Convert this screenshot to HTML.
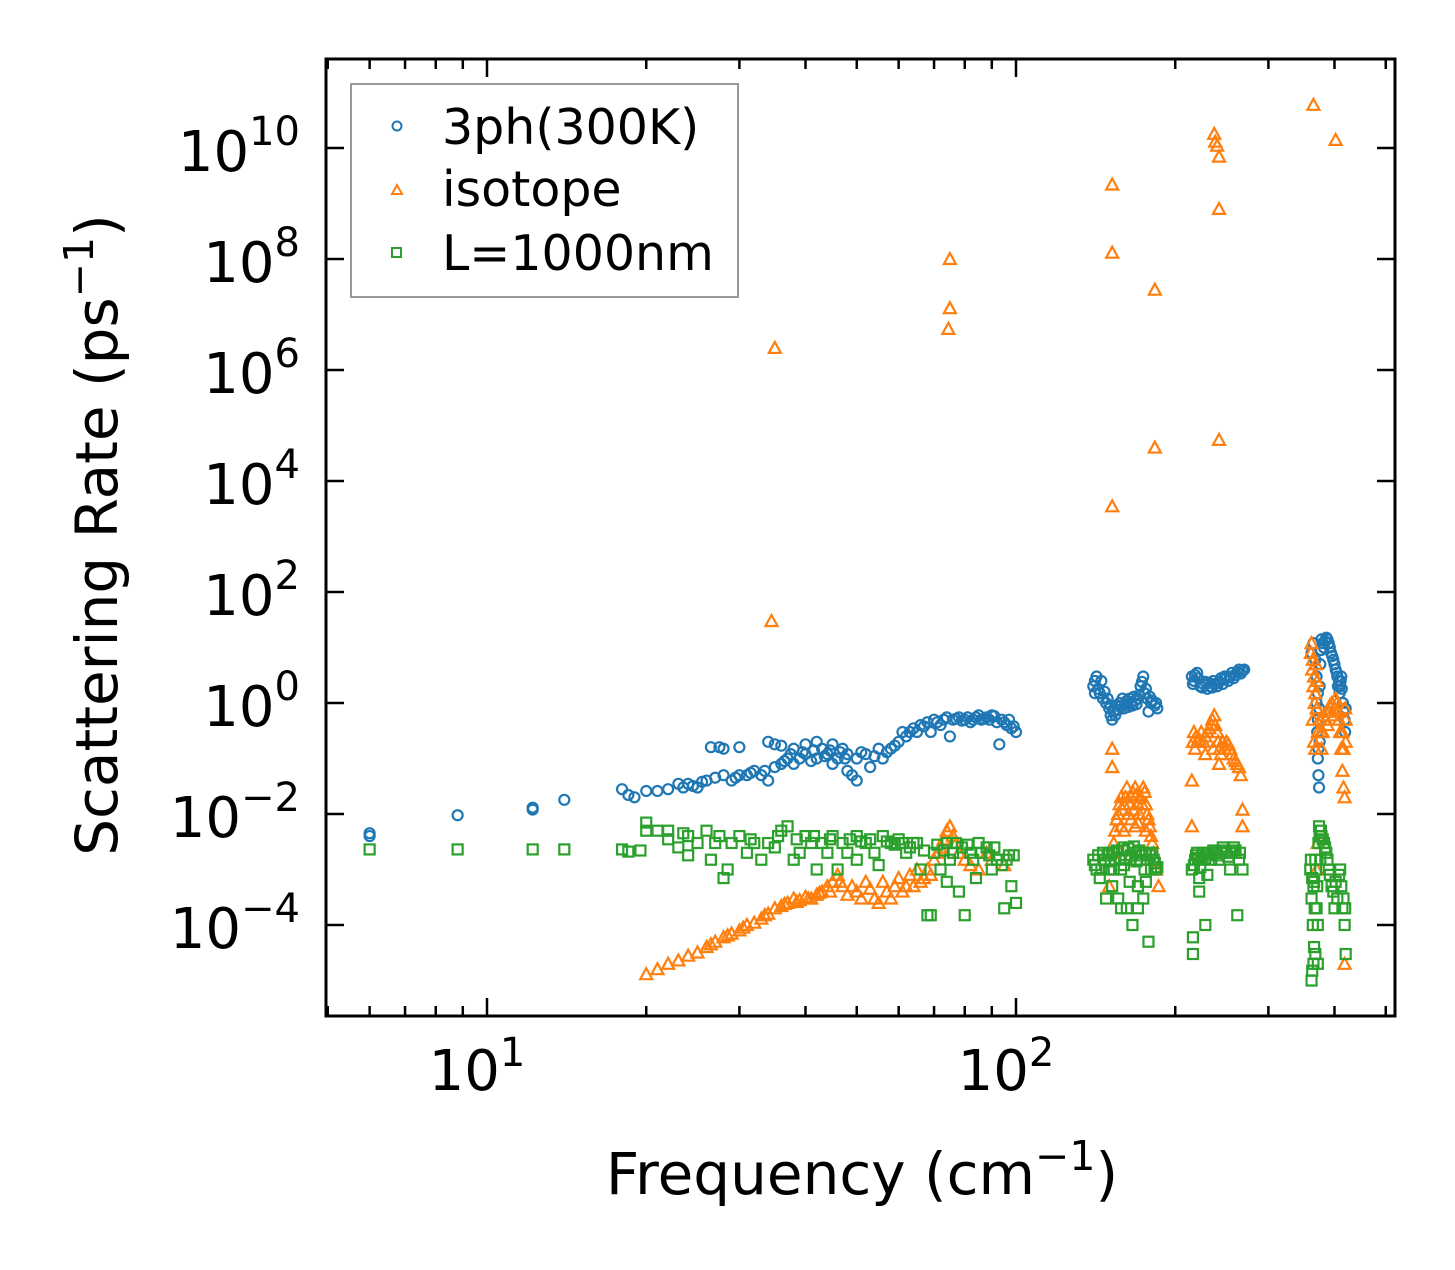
<!DOCTYPE html>
<html><head><meta charset="utf-8"><style>
body{margin:0;background:#fff}
svg text{font-family:"DejaVu Sans","Liberation Sans",sans-serif;fill:#000}
</style></head><body>
<svg id="chart" width="1455" height="1265" viewBox="0 0 1455 1265" xmlns="http://www.w3.org/2000/svg">
<rect width="1455" height="1265" fill="#fff"/>
<g id="marks"></g>
<g id="axes"></g>
<g id="legend">
<rect x="351" y="84" width="387" height="213" fill="#fff" fill-opacity="0.8" stroke="#999" stroke-width="2"/>
<circle cx="397" cy="126" r="4.5" fill="none" stroke="#1f77b4" stroke-width="2"/>
<text x="442" y="144" font-size="49">3ph(300K)</text>
<path d="M392,194 L397,185 L402,194 Z" fill="none" stroke="#ff7f0e" stroke-width="2"/>
<text x="442" y="206" font-size="49">isotope</text>
<rect x="392" y="248" width="9" height="9" fill="none" stroke="#2ca02c" stroke-width="2"/>
<text x="442" y="270" font-size="49">L=1000nm</text>
</g>
<text x="862" y="1194" font-size="58" text-anchor="middle">Frequency (cm<tspan dy="-24" font-size="41">−1</tspan><tspan dy="24">)</tspan></text>
<text transform="translate(117,535) rotate(-90)" font-size="58" text-anchor="middle">Scattering Rate (ps<tspan dy="-24" font-size="41">−1</tspan><tspan dy="24">)</tspan></text>
</svg>
<script>
const threephData=[[6,4.5e-3],[6,4e-3],[8.8,9.5e-3],[12.2,1.3e-2],[12.2,1.2e-2],[14,1.8e-2],
[18,2.8e-2],[18.5,2.2e-2],[19,2e-2],[20,2.6e-2],[21,2.6e-2],[22,2.8e-2],[23,3.5e-2],[23.5,3e-2],[24,3.5e-2],[25,3e-2],[26,4e-2],[26.5,0.16],[27,4.5e-2],[27.5,0.16],[28,5e-2],[28,0.15],[29,4e-2],[30,5e-2],[30,0.16],[31,5e-2],[32,6e-2],[33,5e-2],[34,0.2],[34,4e-2],[35,0.18],[35,7e-2],[36,0.17],[36,8e-2],[37,0.1],[38,0.15],[38,0.08],[39,0.1],[40,0.18],[40,0.12],[41,0.09],[42,0.2],[42,0.1],[43,0.15],[44,0.12],[45,0.18],[45,0.08],[46,0.1],[47,0.15],[48,0.06],[48,0.12],[49,0.05],[50,0.04],[50,0.1],[52,0.12],[53,0.07],[55,0.15],[56,0.1],[57,0.13],[58,0.15],[60,0.2],[61,0.3],[62,0.25],[64,0.35],[65,0.3],[66,0.4],[68,0.45],[69,0.3],[70,0.5],[72,0.4],[73,0.5],[74,0.55],[75,0.25],[76,0.5],[78,0.55],[80,0.5],[82,0.45],[84,0.55],[86,0.5],[88,0.55],[90,0.6],[92,0.45],[93,0.18],[94,0.5],[96,0.4],[98,0.35],[100,0.3],
[24.5,3.2e-2],[25.5,3.8e-2],[29.5,4.5e-2],[31.5,5.5e-2],[33.5,6e-2],[36.5,9e-2],[37.5,0.12],[39.5,0.13],[41.5,0.14],[43.5,0.11],[44.5,0.14],[46.5,0.13],[47.5,0.1],[51,0.13],[54,0.11],[59,0.17],[63,0.3],[67,0.38],[71,0.45],[77,0.52],[79,0.48],[81,0.55],[83,0.5],[85,0.6],[87,0.52],[89,0.5],[91,0.58],[95,0.45],[97,0.5],[99,0.38],
[140,2],[141,1.5],[142,3],[143,1.8],[145,2.5],[146,1.2],[148,1],[150,0.8],[151,0.6],[152,0.5],[153,0.7],[155,0.9],[157,1],[160,0.8],[162,1.1],[165,1],[167,1.3],[170,1.2],[172,2],[174,3],[175,1.5],[177,1.2],[180,1],[183,0.9],[185,0.8],[178,0.7],
[141,2.5],[144,1.5],[147,1.6],[149,1.2],[151,0.9],[154,0.6],[156,0.75],[158,0.9],[159,1.2],[161,0.95],[163,0.85],[164,1.2],[166,0.9],[168,1.1],[169,0.95],[171,1.4],[173,2.4],[176,1.8],[179,1.3],[181,1.1],[184,1],
[215,3],[217,2.5],[220,3.5],[223,2],[226,2.2],[230,1.8],[233,2],[236,2.5],[240,2],[244,2.8],[248,3],[252,2.5],[256,3.5],[260,3.2],[264,4],[268,3.8],[270,4],
[216,2.2],[218,3.2],[221,2.8],[225,1.9],[228,2.4],[232,2.3],[235,1.9],[238,2.2],[242,2.4],[246,2.2],[250,2.8],[254,3],[258,2.8],[262,3.6],[266,3.4],
[362,8],[365,12],[368,6],[370,1],[371,0.3],[372,0.1],[373,0.05],[374,0.03],[376,5],[378,14],[382,10],[386,15],[390,12],[394,8],[398,6],[402,4],[405,3],[408,2.5],[410,2],[412,3],[415,1],[418,0.5],[420,0.8],[372,0.5],[375,2],
[370,3],[372,1.5],[374,0.8],[375,0.2],[377,9],[380,12],[384,13],[388,14],[392,10],[396,7],[400,5],[404,3.5],[406,2],[409,1.5],[411,2.5],[413,1.8],[416,0.7],[419,0.3],[373,0.15]];
const isotopeData=[[35,2.5e6],[34.5,30],[75,1e8],[75,1.3e7],[74.5,5.5e6],[152,2.2e9],[152,1.3e8],[152,3.5e3],[183,2.8e7],[183,4e4],[237,1.8e10],[238,1.3e10],[240,1.1e10],[242,7e9],[242,8e8],[242,5.5e4],[365,6e10],[402,1.4e10],
[20,1.3e-5],[21,1.6e-5],[22,2e-5],[23,2.3e-5],[24,2.8e-5],[25,3.2e-5],[26,4e-5],[27,5e-5],[28,6e-5],[29,7e-5],[30,8e-5],[31,1e-4],[32,1.1e-4],[33,1.3e-4],[34,1.6e-4],[35,2e-4],[36,2.2e-4],[37,2.5e-4],[38,3e-4],[39,2.8e-4],[40,3.2e-4],[41,3e-4],[42,3.5e-4],[43,4e-4],[44,5e-4],[45,6e-4],[46,8e-4],[47,5e-4],[48,3.5e-4],[50,4e-4],[52,6e-4],[54,3e-4],[55,2.5e-4],[57,4e-4],[60,7e-4],[62,5e-4],[65,1e-3],[67,7e-4],[70,1.5e-3],[72,2.5e-3],[74,5e-3],[75,6e-3],[76,4e-3],[78,2e-3],[80,1.5e-3],[85,1e-3],[90,1.5e-3],[95,1.2e-3],
[26.5,4.5e-5],[28.5,6.5e-5],[30.5,9e-5],[33.5,1.5e-4],[36.5,2.4e-4],[38.5,2.6e-4],[40.5,3e-4],[42.5,3.8e-4],[44.5,4e-4],[46.5,6e-4],[49,5e-4],[51,3e-4],[53,4.5e-4],[56,6e-4],[58,3e-4],[59,5e-4],[61,4e-4],[63,8e-4],[64,5e-4],[66,6e-4],[68,1e-3],[69,8e-4],[71,2e-3],[73,3.5e-3],[77,3e-3],[82,1.2e-3],[88,2e-3],
[150,5e-4],[152,0.15],[152,0.07],[152,2e-3],[154,5e-3],[156,1e-2],[158,2e-2],[160,1.5e-2],[162,3e-2],[164,1.5e-2],[166,2.5e-2],[168,3e-2],[170,1.5e-2],[172,2e-2],[174,3e-2],[176,1.5e-2],[178,8e-3],[180,4e-3],[182,2e-3],[184,1e-3],[186,5e-4],[158,6e-3],[165,8e-3],[170,7e-3],
[153,3e-3],[155,8e-3],[157,1.5e-2],[159,1.2e-2],[161,2e-2],[163,1e-2],[165,2e-2],[167,1.2e-2],[169,2.2e-2],[171,1e-2],[173,1.5e-2],[175,2.5e-2],[177,1e-2],[179,6e-3],[181,3e-3],[160,5e-3],[168,6e-3],[176,5e-3],
[215,0.04],[215,6e-3],[217,0.3],[220,0.2],[224,0.3],[228,0.25],[232,0.35],[235,0.5],[237,0.6],[240,0.3],[243,0.15],[246,0.2],[250,0.2],[254,0.15],[258,0.1],[262,0.08],[266,0.05],[268,0.012],[268,6e-3],[218,0.15],[242,0.08],
[216,0.2],[219,0.25],[222,0.22],[226,0.2],[230,0.3],[234,0.4],[238,0.4],[241,0.2],[244,0.12],[248,0.15],[252,0.18],[256,0.12],[260,0.09],[264,0.07],[228,0.12],[236,0.15],
[362,12],[364,6],[366,3],[368,1.5],[370,0.8],[366,0.2],[368,0.15],[372,0.3],[375,0.5],[378,0.15],[380,0.3],[385,0.5],[390,0.7],[395,1],[400,0.8],[404,1],[408,0.5],[410,0.3],[412,0.15],[414,0.06],[416,0.03],[418,0.02],[420,0.5],[418,2e-5],[372,3e-3],[370,1e-3],
[361,8],[363,4],[365,2],[367,1],[369,5],[371,2.5],[364,0.5],[377,0.3],[382,0.6],[388,0.4],[392,0.9],[398,0.6],[402,1.2],[406,0.7],[414,0.3],[416,0.15],[419,0.8],[420,0.2]];
const boundaryData=[[6,2.3e-3],[8.8,2.3e-3],[12.2,2.3e-3],[14,2.3e-3],[18,2.3e-3],[18.5,2.1e-3],[19.5,2.2e-3],[20,5e-3],[20,7e-3],[21,5e-3],[22,3.5e-3],[22,5e-3],[23,2.5e-3],[24,4e-3],[24,1.8e-3],[25,3e-3],[26,5e-3],[26.5,1.5e-3],[27,3e-3],[28,7e-4],[28.5,1e-3],[29,3e-3],[30,4e-3],[31,2e-3],[32,3e-3],[33,1.5e-3],[34,3e-3],[35,2.5e-3],[36,5e-3],[37,6e-3],[38,1.5e-3],[39,2e-3],[40,4e-3],[41,3e-3],[42,1e-3],[43,3e-3],[44,2e-3],[45,4e-3],[46,1e-3],[47,3e-3],[48,2e-3],[50,4e-3],[50,1.5e-3],[52,3e-3],[54,2e-3],[55,1.2e-3],[56,4e-3],[58,3e-3],[60,3.5e-3],[62,2e-3],[64,3e-3],[66,1e-3],[68,1.5e-4],[69,1.5e-4],[70,2e-3],[72,1e-3],[74,3e-3],[76,2e-3],[78,4e-4],[80,1.5e-4],[82,2e-3],[85,3e-3],[88,2.5e-3],[90,1e-3],[92,1.5e-3],[95,2e-4],[98,5e-4],[100,2.5e-4],[97,1.8e-3],
[23.5,4.5e-3],[27.5,4e-3],[31.5,3.5e-3],[35.5,4e-3],[38.5,3.5e-3],[41.5,4e-3],[44.5,3.5e-3],[48.5,3.5e-3],[51,3.2e-3],[53,3.5e-3],[57,3.2e-3],[59,2.8e-3],[61,3e-3],[63,2.5e-3],[65,3e-3],[67,2.2e-3],[71,2.8e-3],[73,2.2e-3],[75,1.5e-3],[77,3e-3],[79,2.5e-3],[81,2.8e-3],[83,1.5e-3],[86,2e-3],[89,1.8e-3],[91,2.5e-3],[94,1.2e-3],[96,1.5e-3],[99,1.8e-3],[74,6e-4],[84,7e-4],
[140,1.5e-3],[142,1e-3],[144,7e-4],[146,2e-3],[148,3e-4],[150,1e-3],[152,2e-3],[154,1.5e-3],[156,3e-4],[158,1e-3],[160,2.5e-3],[162,2e-4],[164,1.5e-3],[166,1e-4],[168,2e-3],[170,5e-4],[172,1.5e-3],[174,3e-4],[176,2e-3],[178,5e-5],[180,1e-3],[182,1.5e-3],[184,1e-3],[158,2e-4],[170,2e-4],[150,2e-3],[160,1.2e-3],[175,1e-3],
[141,1.2e-3],[143,1.8e-3],[145,1e-3],[147,1.5e-3],[149,1.8e-3],[151,1.4e-3],[153,1e-3],[155,2.2e-3],[157,1.6e-3],[159,2.2e-3],[161,1.6e-3],[163,2.4e-3],[165,1.8e-3],[167,2.6e-3],[169,1.4e-3],[171,2.2e-3],[173,1.8e-3],[177,1.5e-3],[179,1.8e-3],[181,2e-3],[183,1.3e-3],[185,1.1e-3],[152,5e-4],[164,6e-4],[176,6e-4],
[215,1e-3],[216,6e-5],[216,3e-5],[218,1.5e-3],[220,2e-3],[222,4e-4],[224,1.5e-3],[226,2e-3],[228,1e-4],[230,2e-3],[234,1.5e-3],[238,2e-3],[242,1.5e-3],[246,2.5e-3],[250,2e-3],[254,1e-3],[258,2.5e-3],[262,1.5e-4],[265,2e-3],[268,1e-3],
[217,1.2e-3],[219,1.8e-3],[221,1.6e-3],[223,1.1e-3],[225,1.8e-3],[228,1.6e-3],[232,1.8e-3],[236,2.2e-3],[240,1.8e-3],[244,2e-3],[248,2.2e-3],[252,1.7e-3],[256,2e-3],[260,2.2e-3],[264,1.5e-3],[222,7e-4],[230,8e-4],
[360,1e-3],[362,1e-5],[364,1e-4],[366,4e-5],[368,1.5e-3],[370,2e-4],[372,1e-4],[374,6e-3],[376,1.5e-3],[378,4e-3],[382,3e-3],[386,2e-3],[390,1e-3],[395,5e-4],[400,2e-4],[405,3e-4],[410,1e-3],[414,2e-4],[418,1e-4],[420,3e-5],[365,2e-5],[372,2e-5],[362,3e-4],[366,6e-4],
[361,1.5e-3],[363,7e-4],[365,5e-4],[367,2e-4],[369,1e-3],[371,5e-4],[373,3e-3],[375,4e-3],[377,5e-3],[380,3.5e-3],[384,2.5e-3],[388,1.5e-3],[392,8e-4],[398,4e-4],[402,6e-4],[408,8e-4],[412,5e-4],[416,3e-4],[419,2e-4],[363,1.5e-5],[368,3e-5]];
const xTickExps=[1,2];
const yTickExps=[-4,-2,0,2,4,6,8,10];

const L=326,R=1395,T=59,B=1016;
const xPerDec=529, yPerDec=55.5;
function xs(v){return 487+(Math.log10(v)-1)*xPerDec;}
function ys(v){return 703-Math.log10(v)*yPerDec;}
const NS="http://www.w3.org/2000/svg";
function mk(tag,attrs,parent){const e=document.createElementNS(NS,tag);for(const k in attrs)e.setAttribute(k,attrs[k]);parent.appendChild(e);return e;}
const marks=document.getElementById('marks');
const clip=mk('clipPath',{id:'pc'},marks);mk('rect',{x:L,y:T,width:R-L,height:B-T},clip);
const g=mk('g',{'clip-path':'url(#pc)'},marks);
threephData.forEach(d=>{const e=mk('circle',{cx:xs(d[0]),cy:ys(d[1]),r:5,fill:'none',stroke:'#1f77b4','stroke-width':2.2},g);

});
isotopeData.forEach(d=>{const x=xs(d[0]),y=ys(d[1]);const e=mk('path',{d:`M${x-6},${y+5} L${x},${y-6} L${x+6},${y+5} Z`,fill:'none',stroke:'#ff7f0e','stroke-width':2.2},g);

});
boundaryData.forEach(d=>{const x=xs(d[0]),y=ys(d[1]);const e=mk('rect',{x:x-5,y:y-5,width:10,height:10,fill:'none',stroke:'#2ca02c','stroke-width':2.2},g);

});

const ax=document.getElementById('axes');
const frame=mk('rect',{x:L,y:T,width:R-L,height:B-T,fill:'none',stroke:'#000','stroke-width':3},ax);


for(let dec=0;dec<=2;dec++){for(let m=1;m<10;m++){const v=m*Math.pow(10,dec);const x=xs(v);if(x<L||x>R)continue;const len=m===1?18:10;
mk('line',{x1:x,y1:B,x2:x,y2:B-len,stroke:'#000','stroke-width':2.5},ax);
mk('line',{x1:x,y1:T,x2:x,y2:T+len,stroke:'#000','stroke-width':2.5},ax);}}
xTickExps.forEach(p=>{const t=mk('text',{x:xs(Math.pow(10,p))-10,y:1090,'font-size':56,'text-anchor':'middle'},ax);t.innerHTML='10<tspan dy="-24" font-size="40">'+p+'</tspan>';

});
yTickExps.forEach(p=>{const y=ys(Math.pow(10,p));
mk('line',{x1:L,y1:y,x2:L+18,y2:y,stroke:'#000','stroke-width':2.5},ax);
mk('line',{x1:R,y1:y,x2:R-18,y2:y,stroke:'#000','stroke-width':2.5},ax);
const t=mk('text',{x:300,y:y+23,'font-size':56,'text-anchor':'end'},ax);t.innerHTML='10<tspan dy="-26" font-size="40">'+(p<0?'−'+(-p):p)+'</tspan>';

});
</script>
</body></html>
